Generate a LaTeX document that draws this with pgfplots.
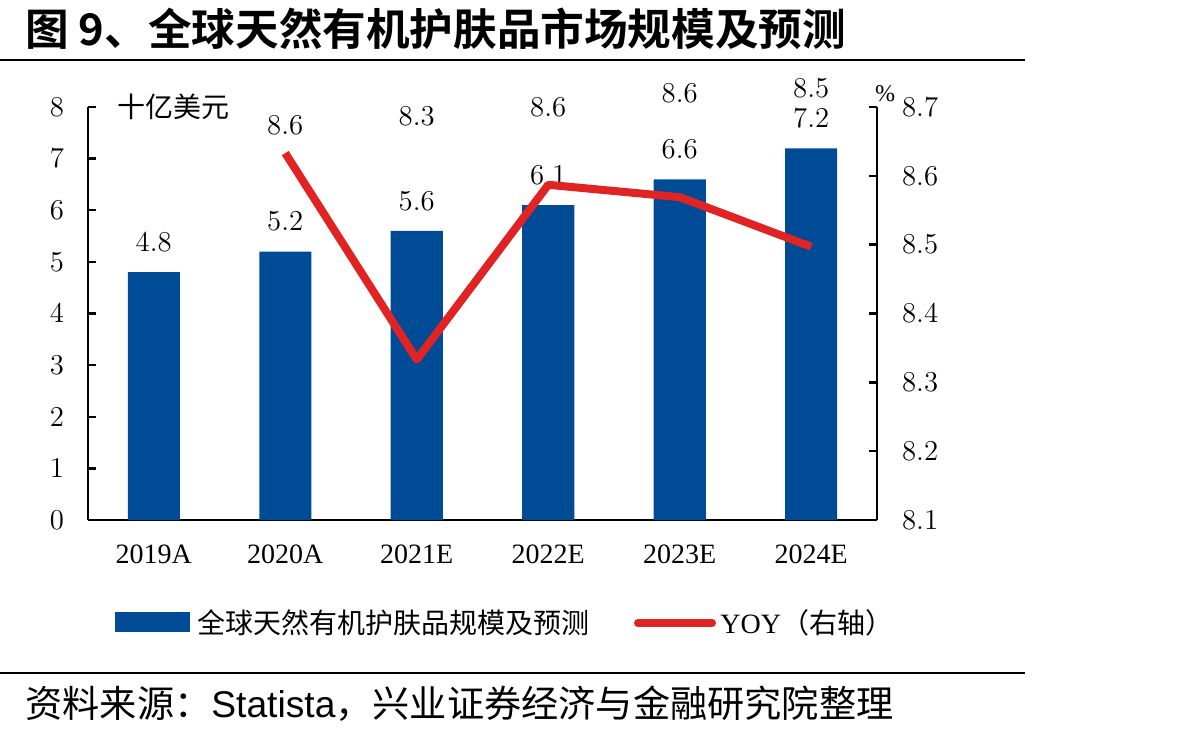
\documentclass[border=0pt]{standalone}
\usepackage{fontspec}
\usepackage{pgfplots}
\usepackage{pgfplotstable}
\pgfplotsset{compat=1.18}
\setmainfont{Liberation Serif}
\newfontfamily\cjk[BoldFont={Noto Sans CJK SC Bold}]{Noto Sans CJK SC}
\newfontfamily\arial{Liberation Sans}

\definecolor{barblue}{RGB}{0,75,150}
\definecolor{yoyred}{RGB}{225,35,35}

% market size, billion USD
\pgfplotstableread{
x y
0 4.8
1 5.2
2 5.6
3 6.1
4 6.6
5 7.2
}\sizetable

% year-on-year growth (%), ly = height of its value label
\pgfplotstableread{
x y ly
1 8.633 8.674
2 8.333 8.687
3 8.587 8.700
4 8.569 8.720
5 8.497 8.728
}\yoytable

\newcommand{\numfont}{\fontsize{14}{16}\selectfont}

\begin{document}
\begin{tikzpicture}
\useasboundingbox (0,0) rectangle (596pt,-368.5pt);

% bars: market size (left axis)
\begin{axis}[
  at={(44pt,-260pt)}, anchor=south west,
  scale only axis, width=394.5pt, height=206.5pt,
  xmin=-0.5, xmax=5.5, ymin=0, ymax=8,
  axis x line*=bottom, axis y line*=left,
  axis line style={-, line width=1.2pt, black},
  xtick={0,...,5},
  xticklabels={2019A,2020A,2021E,2022E,2023E,2024E},
  xtick style={draw=none},
  ytick={0,...,8},
  tick align=inside,
  major tick length=4pt,
  ytick style={black, line width=1.2pt},
  ticklabel style={font=\numfont},
  xticklabel style={yshift=-9pt},
  yticklabel style={xshift=-8.5pt},
  clip=false,
]
\addplot[ybar, bar width=26pt, fill=barblue, draw=none,
  nodes near coords={\pgfmathprintnumber[fixed,fixed zerofill,precision=1]{\pgfplotspointmeta}},
  every node near coord/.append style={font=\numfont, anchor=center, yshift=15pt, black}]
  table[x=x,y=y]{\sizetable};
\end{axis}

% line: YOY (right axis)
\begin{axis}[
  at={(44pt,-260pt)}, anchor=south west,
  scale only axis, width=394.5pt, height=206.5pt,
  xmin=-0.5, xmax=5.5, ymin=8.1, ymax=8.7,
  axis x line=none, axis y line*=right,
  axis line style={-, line width=1.2pt, black},
  ytick={8.1,8.2,...,8.7},
  tick align=inside,
  major tick length=4pt,
  ytick style={black, line width=1.2pt},
  yticklabel style={font=\numfont, xshift=9pt,
    /pgf/number format/.cd, fixed, fixed zerofill, precision=1},
  clip=false,
]
\addplot[yoyred, line width=4pt, line join=round]
  table[x=x,y=y]{\yoytable};
% value labels of the YOY line
\addplot[draw=none, mark=none, point meta=\thisrow{y},
  nodes near coords={\pgfmathprintnumber[fixed,fixed zerofill,precision=1]{\pgfplotspointmeta}},
  every node near coord/.append style={font=\numfont, anchor=center, black}]
  table[x=x,y=ly]{\yoytable};
\end{axis}

\begin{scope}[x=0.5pt,y=-0.5pt]
  % title and rules
  \node[anchor=west, inner sep=0] at (25,29) {\cjk\bfseries\fontsize{21.8}{25}\selectfont 图 9、全球天然有机护肤品市场规模及预测};
  \draw[line width=1pt] (0,60) -- (1025,60);
  \draw[line width=1pt] (0,673) -- (1025,673);
  % units
  \node[anchor=center, inner sep=0] at (173,107) {\cjk\fontsize{14}{16}\selectfont 十亿美元};
  \node[anchor=center, inner sep=0] at (885,94) {\fontsize{12}{14}\selectfont \%};
  % legend
  \fill[barblue] (115,612) rectangle (190,632);
  \node[anchor=west, inner sep=0] at (197,623) {\cjk\fontsize{14}{16}\selectfont 全球天然有机护肤品规模及预测};
  \draw[yoyred, line width=4pt, line cap=round] (638,623) -- (712,623);
  \node[anchor=west, inner sep=0] at (720,623) {\fontsize{14}{16}\selectfont YOY{\cjk（右轴）}};
  % source
  \node[anchor=west, inner sep=0] at (25,704) {\fontsize{18.6}{21}\selectfont\cjk 资料来源：{\arial Statista}，兴业证券经济与金融研究院整理};
\end{scope}
\end{tikzpicture}
\end{document}
